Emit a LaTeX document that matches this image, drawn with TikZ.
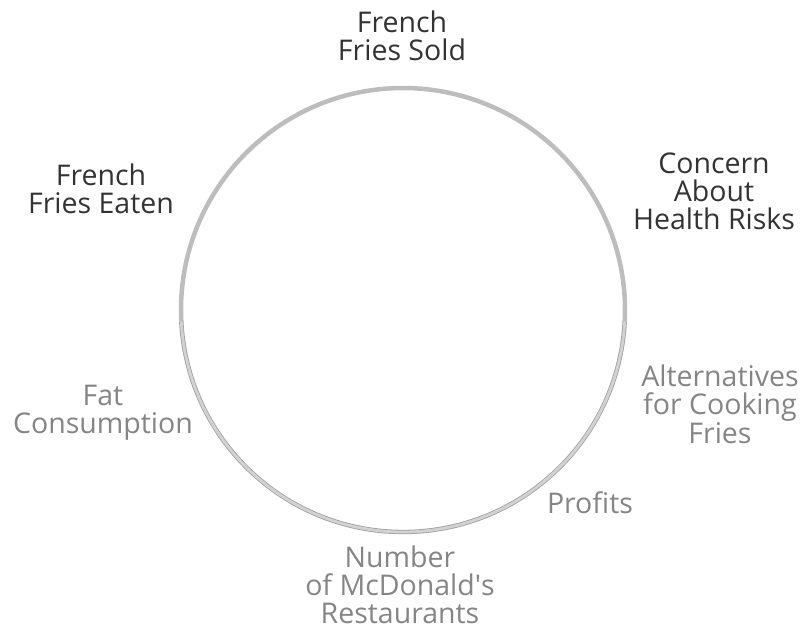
\documentclass[tikz,border=0pt]{standalone}
\usepackage{fontspec}
\setmainfont{Open Sans}
\definecolor{topring}{HTML}{BDBDBD}
\definecolor{darktext}{HTML}{333333}
\definecolor{faded}{HTML}{858585}
\begin{document}
\begin{tikzpicture}[x=1pt,y=-1pt,
  lab/.style={font=\fontsize{28.5}{27.7}\selectfont, align=center, inner sep=0pt, anchor=base},
  toplab/.style={lab, text=darktext},
  botlab/.style={lab, text=faded}]
\useasboundingbox (0,0) rectangle (806,635);
\coordinate (c) at (403,310);
% top half of loop
\draw[topring, line width=4.5pt] ([shift={(177:222)}]c) arc[start angle=177, end angle=363, radius=222];
% bottom half of loop
\draw[draw=gray!75, line width=0.8pt, double=gray!35, double distance=2.8pt]
  ([shift={(3:222)}]c) arc[start angle=3, end angle=177, radius=222];
% anchor=base is the baseline of the last line
\node[toplab] (sold) at (402,60) {French\\Fries Sold};
\node[toplab] (eaten) at (101,213) {French\\Fries Eaten};
\node[toplab] (concern) at (714,229) {Concern\\About\\Health Risks};
\node[botlab] (alt) at (720,443) {Alternatives\\for Cooking\\Fries};
\node[botlab] (profits) at (590,513) {Profits};
\node[botlab] (number) at (400,623) {Number\\of McDonald\textquotesingle s\\Restaurants};
\node[botlab] (fat) at (103,433) {Fat\\Consumption};
\end{tikzpicture}
\end{document}
